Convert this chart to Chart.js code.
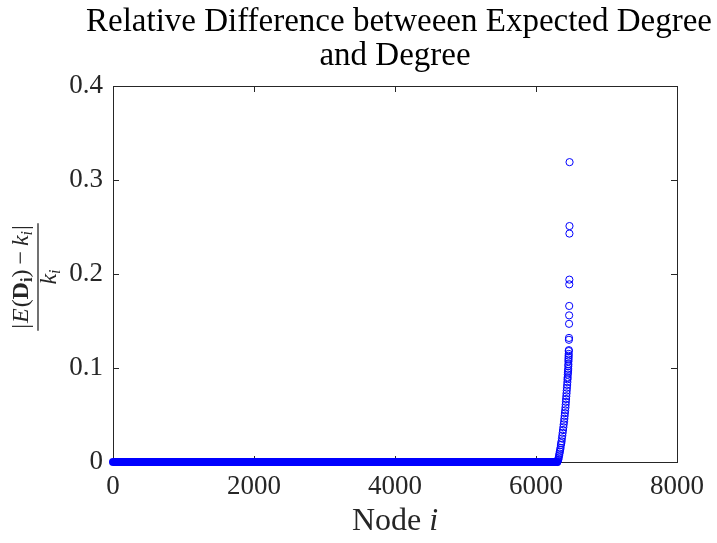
<!DOCTYPE html>
<html>
<head>
<meta charset="utf-8">
<script src="https://cdn.jsdelivr.net/npm/chart.js@4"></script>
<style>
  html, body { margin: 0; padding: 0; background: #fff; }
  #wrap { width: 717px; height: 543px; }
</style>
</head>
<body>
<div id="wrap"><canvas id="degreeChart" width="717" height="543"></canvas></div>
<script>
// nodes whose relative difference is (practically) zero
const flatNodes = [0, 6300];
const flatValues = [0, 0];

// sorted tail where the difference starts to grow
const riseNodes = [
    6300, 6306, 6312, 6318, 6323, 6328, 6333, 6338, 6343, 6348,
    6353, 6358, 6363, 6368, 6373, 6378, 6383, 6388, 6393, 6398,
    6402, 6406, 6410, 6414, 6418, 6421, 6424, 6427, 6430, 6433,
    6436, 6439, 6442, 6445, 6447, 6449, 6451, 6453, 6455, 6457,
    6458, 6459, 6460, 6461, 6462, 6463, 6464, 6465, 6466, 6467,
    6468, 6469, 6470, 6471, 6472, 6473, 6474, 6475, 6476
];
const riseValues = [
    0.000, 0.001, 0.002, 0.003, 0.005, 0.007, 0.009, 0.011, 0.013, 0.015,
    0.018, 0.020, 0.022, 0.025, 0.028, 0.031, 0.034, 0.037, 0.040, 0.043,
    0.046, 0.049, 0.052, 0.055, 0.058, 0.061, 0.064, 0.067, 0.070, 0.073,
    0.076, 0.079, 0.082, 0.085, 0.088, 0.090, 0.093, 0.095, 0.097, 0.099,
    0.102, 0.104, 0.107, 0.109, 0.111, 0.113, 0.115, 0.118, 0.119, 0.130,
    0.132, 0.147, 0.156, 0.166, 0.189, 0.194, 0.243, 0.251, 0.319
];

const xTicks = [0, 2000, 4000, 6000, 8000];
const yTicks = [0, 0.1, 0.2, 0.3, 0.4];

const titleLines = ['Relative Difference betweeen Expected Degree', 'and Degree'];

const serif = '"Liberation Serif", "Times New Roman", serif';
const axisColor = '#262626';
const blue = 'rgb(0, 0, 255)';

// box + inward ticks on all four sides, like matlab's "box on"
const boxPlugin = {
    id: 'box',
    beforeDatasetsDraw(chart) {
        const { ctx, chartArea: a, scales } = chart;
        ctx.save();
        ctx.strokeStyle = axisColor;
        ctx.lineWidth = 1;
        ctx.strokeRect(Math.round(a.left) + 0.5, Math.round(a.top) + 0.5,
            Math.round(a.right - a.left), Math.round(a.bottom - a.top));
        const len = 6;
        ctx.beginPath();
        xTicks.forEach(v => {
            const px = Math.round(scales.x.getPixelForValue(v)) + 0.5;
            ctx.moveTo(px, a.bottom); ctx.lineTo(px, a.bottom - len);
            ctx.moveTo(px, a.top); ctx.lineTo(px, a.top + len);
        });
        yTicks.forEach(v => {
            const py = Math.round(scales.y.getPixelForValue(v)) + 0.5;
            ctx.moveTo(a.left, py); ctx.lineTo(a.left + len, py);
            ctx.moveTo(a.right, py); ctx.lineTo(a.right - len, py);
        });
        ctx.stroke();
        ctx.restore();
    }
};

// draws pieces of text one after another, returns end x
function drawRun(ctx, parts, x, y) {
    parts.forEach(p => {
        ctx.font = p.font;
        ctx.fillText(p.text, x, y + (p.dy || 0));
        x += ctx.measureText(p.text).width + (p.gap || 0);
    });
    return x;
}
function runWidth(ctx, parts) {
    let w = 0;
    parts.forEach(p => {
        ctx.font = p.font;
        w += ctx.measureText(p.text).width + (p.gap || 0);
    });
    return w;
}

const labelPlugin = {
    id: 'labels',
    afterDraw(chart) {
        const { ctx, chartArea: a } = chart;
        const cx = (a.left + a.right) / 2;
        ctx.save();
        ctx.fillStyle = '#000';
        ctx.textAlign = 'center';
        ctx.textBaseline = 'alphabetic';
        ctx.font = '33px ' + serif;
        ctx.fillText(titleLines[0], cx + 4, 31);
        ctx.fillText(titleLines[1], cx, 65);

        // x label: "Node i"
        ctx.fillStyle = axisColor;
        ctx.textAlign = 'left';
        const xl = [
            { text: 'Node ', font: '32px ' + serif },
            { text: 'i', font: 'italic 32px ' + serif }
        ];
        drawRun(ctx, xl, cx - runWidth(ctx, xl) / 2, 530);

        // y label: |E(D_i) - k_i| / k_i, rotated
        ctx.translate(38, 277);
        ctx.rotate(-Math.PI / 2);
        const f = '24px ' + serif, fi = 'italic 24px ' + serif;
        const fb = 'bold 24px ' + serif, fs = 'italic 16px ' + serif;
        const num = [
            { text: '|', font: f, gap: 1 },
            { text: 'E', font: fi, gap: 1 },
            { text: '(', font: f },
            { text: 'D', font: fb },
            { text: 'i', font: 'bold 16px ' + serif, dy: 4 },
            { text: ')', font: f, gap: 5 },
            { text: '\u2212', font: f, gap: 5 },
            { text: 'k', font: fi },
            { text: 'i', font: fs, dy: 4, gap: 1 },
            { text: '|', font: f }
        ];
        const nw = runWidth(ctx, num);
        drawRun(ctx, num, -nw / 2, -10);
        const den = [
            { text: 'k', font: fi },
            { text: 'i', font: fs, dy: 4 }
        ];
        drawRun(ctx, den, -runWidth(ctx, den) / 2, 18);
        ctx.strokeStyle = axisColor;
        ctx.lineWidth = 1.3;
        ctx.beginPath();
        ctx.moveTo(-nw / 2 - 2, 0);
        ctx.lineTo(nw / 2 + 2, 0);
        ctx.stroke();
        ctx.restore();
    }
};

const flatData = flatNodes.map((n, i) => ({ x: n, y: flatValues[i] }));
const riseData = riseNodes.map((n, i) => ({ x: n, y: riseValues[i] }));

const config = {
    type: 'scatter',
    data: {
        datasets: [{
            type: 'line',
            data: flatData,
            borderColor: blue,
            borderWidth: 8,
            borderCapStyle: 'round',
            pointRadius: 0,
            clip: false
        }, {
            data: riseData,
            borderColor: blue,
            backgroundColor: 'rgba(0,0,0,0)',
            borderWidth: 1,
            pointRadius: 3.6,
            pointHoverRadius: 3.6,
            clip: false
        }]
    },
    options: {
        responsive: false,
        animation: false,
        events: [],
        layout: { padding: { top: 86, right: 40, left: 0, bottom: 0 } },
        plugins: { legend: { display: false }, tooltip: { enabled: false } },
        scales: {
            x: {
                type: 'linear',
                min: 0, max: 8000,
                afterBuildTicks: s => { s.ticks = xTicks.map(v => ({ value: v })); },
                afterFit: s => { s.height = 81; },
                grid: { display: false, drawTicks: false },
                border: { display: false },
                ticks: {
                    color: axisColor,
                    padding: 9,
                    maxRotation: 0,
                    font: { family: serif, size: 27 },
                    callback: v => String(v)
                }
            },
            y: {
                type: 'linear',
                min: 0, max: 0.4,
                afterBuildTicks: s => { s.ticks = yTicks.map(v => ({ value: v })); },
                afterFit: s => { s.width = 113; },
                grid: { display: false, drawTicks: false },
                border: { display: false },
                ticks: {
                    color: axisColor,
                    padding: 10,
                    font: { family: serif, size: 27 },
                    callback: v => String(v)
                }
            }
        }
    },
    plugins: [boxPlugin, labelPlugin]
};

const degreeChart = new Chart(document.getElementById('degreeChart'), config);
</script>
</body>
</html>
